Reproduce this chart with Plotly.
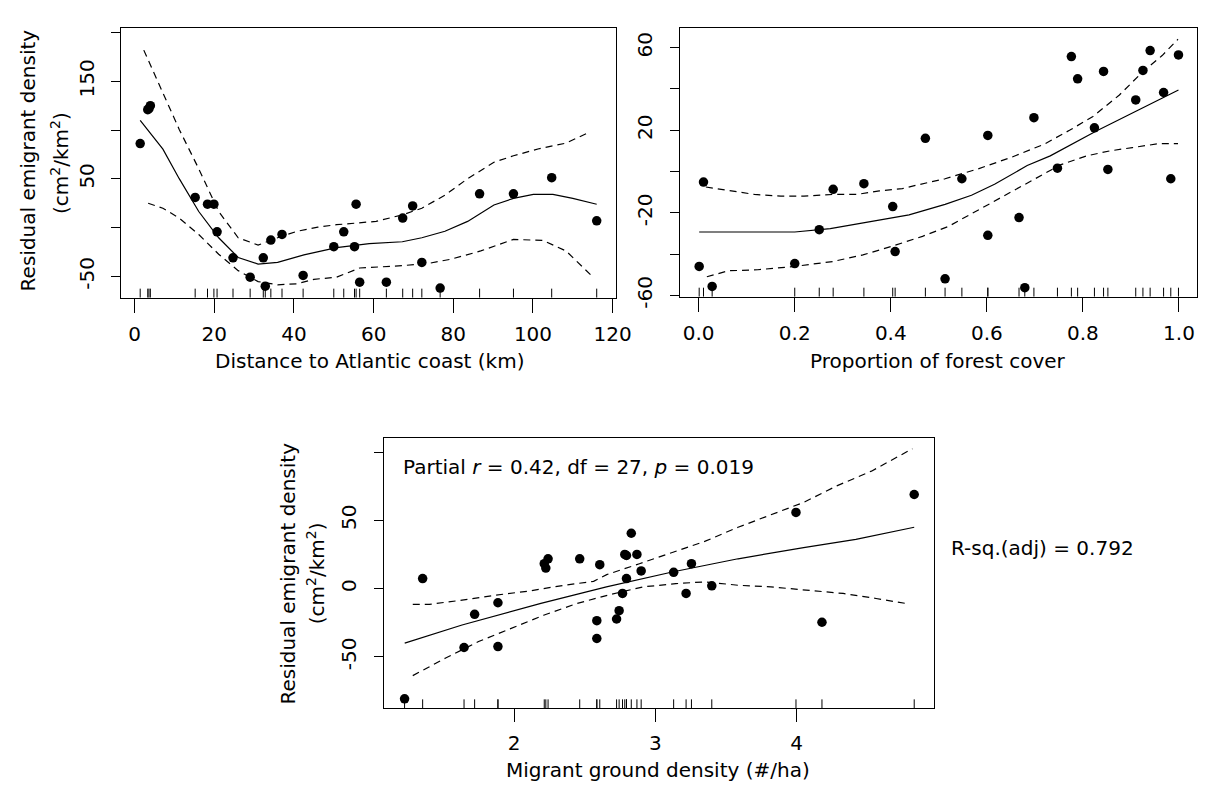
import plotly.graph_objects as go

W, H = 1206, 794
FONT = "DejaVu Sans, Liberation Sans, Arial, sans-serif"
FS = 20

# ── panel 1: distance to coast ──
dist_x = [1.4, 3.3, 3.6, 3.95, 15.2, 18.3, 19.9, 20.7, 24.7, 29.0, 32.3, 32.8, 34.2, 37.0,
          42.3, 50.0, 52.5, 55.2, 55.6, 56.5, 63.2, 67.3, 69.8, 72.1, 76.7, 86.6, 95.1,
          104.7, 116.0]
dist_y = [86.2, 120.9, 122.0, 125.0, 31.0, 24.0, 24.0, -4.3, -31.0, -50.8, -31.0, -60.0,
          -12.8, -7.0, -49.0, -19.5, -4.3, -19.5, 24.0, -55.9, -55.9, 9.8, 22.2, -35.7,
          -62.0, 34.7, 34.7, 51.2, 7.0]
dist_fit_x = [1.4, 7.1, 11.2, 16.1, 21.1, 26.0, 31.0, 35.9, 42.5, 50.7, 58.9, 67.2, 72.1,
              77.9, 83.6, 90.2, 95.1, 100.1, 105.0, 110.0, 116.0]
dist_fit_y = [110.0, 80.5, 50.2, 16.5, -10.4, -30.6, -37.4, -35.7, -28.0, -20.5, -16.5,
              -14.5, -10.4, -3.7, 6.4, 23.2, 30.0, 34.0, 34.0, 30.0, 24.0]
dist_up_x = [2.3, 7.1, 11.2, 16.1, 21.1, 26.0, 31.0, 35.9, 40.8, 46.0, 50.7, 60.6, 67.2,
             72.1, 77.9, 83.6, 90.2, 95.1, 101.7, 108.3, 114.2]
dist_up_y = [182.0, 137.7, 100.7, 60.3, 16.5, -10.4, -17.9, -10.4, -3.7, 0.5, 3.0, 6.4,
             13.1, 19.9, 33.3, 50.2, 67.0, 73.7, 81.1, 86.6, 98.0]
dist_lo_x = [3.4, 7.1, 11.2, 16.1, 21.1, 26.0, 31.0, 35.9, 40.8, 45.0, 50.7, 56.5, 67.2,
             73.8, 79.5, 86.9, 95.1, 102.5, 108.3, 114.7]
dist_lo_y = [25.0, 19.9, 9.8, -7.0, -27.3, -44.1, -55.3, -58.6, -57.6, -53.0, -50.8, -41.4,
             -39.0, -36.7, -32.3, -23.9, -12.1, -13.1, -23.9, -49.2]

# ── panel 2: forest cover ──
forest_x = [0.001, 0.01, 0.028, 0.2, 0.251, 0.28, 0.344, 0.404, 0.409, 0.472, 0.513, 0.548,
            0.602, 0.602, 0.667, 0.679, 0.698, 0.747, 0.776, 0.789, 0.824, 0.843, 0.852,
            0.91, 0.925, 0.94, 0.968, 0.983, 0.999]
forest_y = [-46.0, -5.1, -55.7, -44.6, -28.2, -8.6, -5.9, -17.0, -38.8, 16.1, -52.0, -3.5,
            17.5, -30.9, -22.3, -56.3, 26.1, 1.6, 55.7, 44.9, 21.2, 48.5, 1.0, 34.7, 49.0,
            58.6, 38.3, -3.5, 56.5]
forest_fit_x = [0.001, 0.2, 0.274, 0.342, 0.411, 0.438, 0.513, 0.568, 0.616, 0.684, 0.732,
                0.78, 0.828, 0.876, 0.924, 0.972, 0.999]
forest_fit_y = [-29.3, -29.3, -27.7, -25.0, -22.3, -21.0, -15.9, -11.5, -6.2, 2.9, 7.6,
                13.7, 19.6, 25.2, 30.7, 36.3, 39.5]
forest_up_x = [0.015, 0.068, 0.116, 0.171, 0.219, 0.28, 0.329, 0.376, 0.424, 0.452, 0.513,
               0.582, 0.65, 0.719, 0.773, 0.821, 0.876, 0.924, 0.965, 0.998]
forest_up_y = [-7.5, -9.4, -11.1, -11.9, -11.9, -11.1, -11.1, -9.4, -8.3, -6.7, -3.5, 1.3,
               6.8, 13.2, 20.1, 26.7, 37.1, 48.2, 56.2, 64.1]
forest_lo_x = [0.017, 0.062, 0.123, 0.199, 0.28, 0.342, 0.404, 0.466, 0.52, 0.582, 0.637,
               0.698, 0.753, 0.808, 0.856, 0.903, 0.958, 0.998]
forest_lo_y = [-51.0, -48.1, -47.6, -46.0, -43.6, -40.4, -36.1, -31.4, -26.6, -18.6, -11.5,
               -3.5, 3.2, 7.6, 10.0, 11.6, 13.5, 13.5]

# ── panel 3: migrant ground density ──
mig_x = [1.225, 1.353, 1.646, 1.721, 1.886, 1.886, 2.214, 2.225, 2.241, 2.465, 2.586, 2.586,
         2.607, 2.726, 2.744, 2.768, 2.784, 2.796, 2.796, 2.83, 2.87, 2.9, 3.13, 3.218,
         3.256, 3.4, 3.996, 4.18, 4.833]
mig_y = [-80.8, 7.3, -43.2, -18.9, -10.4, -42.5, 18.2, 15.0, 21.8, 21.8, -23.5, -36.6, 17.5,
         -22.3, -16.2, -3.6, 25.0, 24.2, 7.3, 40.5, 25.0, 12.9, 11.9, -3.6, 18.2, 2.0, 55.8,
         -24.7, 68.9]
mig_fit_x = [1.226, 1.632, 2.19, 2.654, 3.12, 3.586, 4.05, 4.42, 4.833]
mig_fit_y = [-40.0, -26.7, -10.9, 1.2, 12.1, 21.8, 30.0, 36.0, 44.9]
mig_up_x = [1.283, 1.4, 1.632, 1.865, 2.1, 2.33, 2.563, 2.656, 2.888, 3.12, 3.354, 3.586,
            3.818, 4.05, 4.284, 4.53, 4.82]
mig_up_y = [-11.6, -11.6, -8.5, -4.9, -1.9, 2.0, 5.3, 10.2, 18.2, 26.7, 34.7, 44.9, 53.9,
            63.1, 75.2, 86.0, 102.4]
mig_lo_x = [1.283, 1.516, 1.749, 1.981, 2.214, 2.447, 2.68, 2.912, 3.145, 3.354, 3.586,
            3.818, 4.05, 4.33, 4.563, 4.773]
mig_lo_y = [-63.8, -50.9, -38.8, -29.1, -19.4, -10.9, -4.4, 1.2, 3.6, 4.9, 2.4, 1.2, -1.2,
            -3.6, -7.3, -10.9]

panels = [
    ("x", "y", dist_x, dist_y, dist_fit_x, dist_fit_y, dist_up_x, dist_up_y, dist_lo_x, dist_lo_y),
    ("x2", "y2", forest_x, forest_y, forest_fit_x, forest_fit_y, forest_up_x, forest_up_y,
     forest_lo_x, forest_lo_y),
    ("x3", "y3", mig_x, mig_y, mig_fit_x, mig_fit_y, mig_up_x, mig_up_y, mig_lo_x, mig_lo_y),
]

fig = go.Figure()
shapes = []
for xa, ya, px_, py_, fx, fy, ux, uy, lx, ly in panels:
    fig.add_trace(go.Scatter(x=fx, y=fy, xaxis=xa, yaxis=ya, mode="lines",
                             line=dict(color="black", width=1.2)))
    fig.add_trace(go.Scatter(x=ux, y=uy, xaxis=xa, yaxis=ya, mode="lines",
                             line=dict(color="black", width=1.2, dash="7px,5px")))
    fig.add_trace(go.Scatter(x=lx, y=ly, xaxis=xa, yaxis=ya, mode="lines",
                             line=dict(color="black", width=1.2, dash="7px,5px")))
    fig.add_trace(go.Scatter(x=px_, y=py_, xaxis=xa, yaxis=ya, mode="markers",
                             marker=dict(color="black", size=9.5, line=dict(width=0))))
    # rug
    for v in px_:
        shapes.append(dict(type="line", xref=xa, yref=ya + " domain", x0=v, x1=v,
                           y0=0, y1=0.033, line=dict(color="black", width=1)))


def px(x):
    return x / W


def py(y):
    return 1 - y / H


axis_common = dict(showline=True, mirror=True, linecolor="black", linewidth=1.2,
                   ticks="outside", tickcolor="black", tickwidth=1, showgrid=False,
                   zeroline=False, tickfont=dict(family=FONT, size=FS, color="black"))
xcommon = dict(axis_common, ticklen=14, ticklabelstandoff=4)
ycommon = dict(axis_common, ticklen=9, tickangle=-90)

fig.update_layout(
    width=W, height=H,
    margin=dict(l=0, r=0, t=0, b=0),
    paper_bgcolor="white", plot_bgcolor="white",
    showlegend=False,
    font=dict(family=FONT, size=FS, color="black"),
    xaxis=dict(xcommon, domain=[px(115), px(616)], range=[-3.3, 120.8], anchor="y",
               tickvals=[0, 20, 40, 60, 80, 100, 120]),
    yaxis=dict(ycommon, domain=[py(294), py(20)], range=[-71.7, 205], anchor="x",
               ticklabelstandoff=9,
               tickvals=[-50, 0, 50, 100, 150, 200],
               ticktext=["-50", "", "50", "", "150", ""]),
    xaxis2=dict(xcommon, domain=[px(681), px(1205)], range=[-0.039, 1.0376], anchor="y2",
                tickvals=[0, 0.2, 0.4, 0.6, 0.8, 1.0],
                ticktext=["0.0", "0.2", "0.4", "0.6", "0.8", "1.0"]),
    yaxis2=dict(ycommon, domain=[py(293), py(20)], range=[-60.6, 69.7], anchor="x2",
                ticklabelstandoff=10,
                tickvals=[-60, -40, -20, 0, 20, 40, 60],
                ticktext=["-60", "", "-20", "", "20", "", "60"]),
    xaxis3=dict(xcommon, domain=[px(381), px(938)], range=[1.079, 4.97], anchor="y3",
                tickvals=[2, 3, 4], ticklen=13),
    yaxis3=dict(ycommon, domain=[py(711), py(437)], range=[-87.7, 110], anchor="x3",
                ticklabelstandoff=10,
                tickvals=[-50, 0, 50, 100], ticktext=["-50", "0", "50", ""]),
    shapes=shapes,
)

ann = [
    # y titles
    ("Residual emigrant density", 20, 155, -90),
    ("(cm<sup>2</sup>/km<sup>2</sup>)", 52, 157, -90),
    ("Residual emigrant density", 284, 574, -90),
    ("(cm<sup>2</sup>/km<sup>2</sup>)", 312, 574, -90),
    # x titles
    ("Distance to Atlantic coast (km)", 366, 358, 0),
    ("Proportion of forest cover", 943, 358, 0),
    ("Migrant ground density (#/ha)", 659, 774, 0),
    ("R-sq.(adj) = 0.792", 1048, 548, 0),
]
annotations = [dict(text=t, x=px(x), y=py(y), xref="paper", yref="paper", showarrow=False,
                    xanchor="center", yanchor="middle", textangle=a,
                    font=dict(family=FONT, size=FS, color="black"))
               for t, x, y, a in ann]
annotations.append(dict(text="Partial <i>r</i> = 0.42, df = 27, <i>p</i> = 0.019",
                        x=px(398), y=py(466), xref="paper", yref="paper", showarrow=False,
                        xanchor="left", yanchor="middle",
                        font=dict(family=FONT, size=FS, color="black")))
fig.update_layout(annotations=annotations)

fig.write_html("out.html")
